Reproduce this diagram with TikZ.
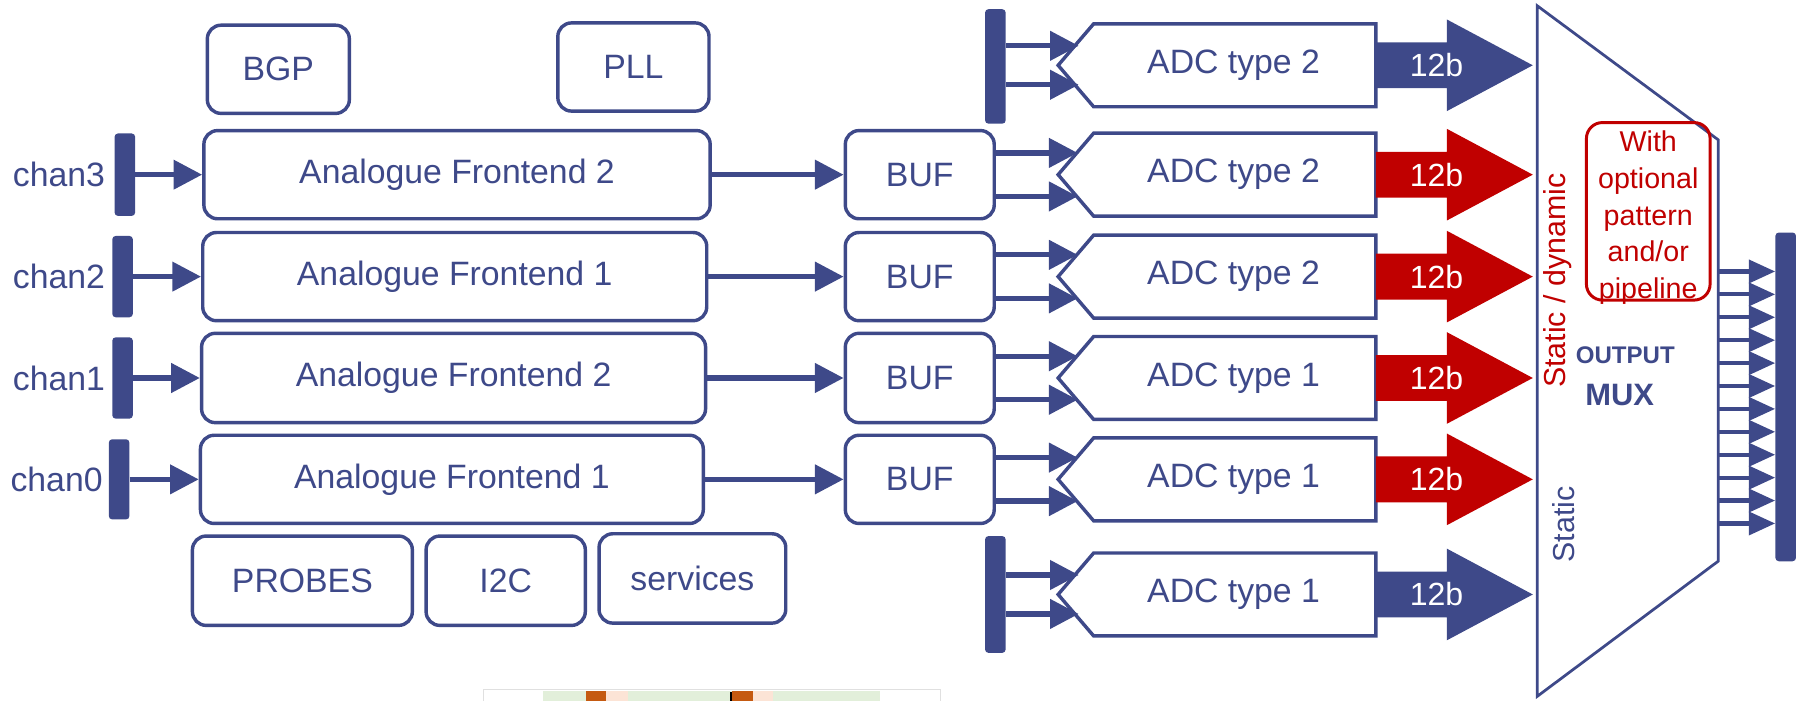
\documentclass[tikz,border=0pt]{standalone}
\usepackage{fontspec}
\setmainfont{Liberation Sans}
\usetikzlibrary{arrows.meta,calc}
\definecolor{navy}{RGB}{62,73,137}
\definecolor{dred}{RGB}{192,0,0}
\definecolor{lgreen}{RGB}{226,239,218}
\definecolor{orng}{RGB}{197,90,17}
\definecolor{lpink}{RGB}{252,228,214}
\begin{document}
\begin{tikzpicture}[x=1pt,y=-1pt,
  box/.style={draw=navy,line width=3pt,rounded corners=12pt,text=navy,
    font=\fontsize{29.5}{34}\selectfont,inner sep=0pt},
  barbox/.style={fill=navy,rounded corners=3pt,minimum width=18pt,inner sep=0pt},
  lbl/.style={text=navy,font=\fontsize{29.5}{34}\selectfont,inner sep=0pt},
  arr/.style={draw=navy,line width=4.6pt,-{Triangle[length=25pt,width=25pt]}},
  oarr/.style={draw=navy,line width=3.6pt,-{Triangle[length=23pt,width=20pt]}},
  adcbody/.style={minimum width=248pt,minimum height=72pt,inner sep=0pt,text=navy,
    font=\fontsize{29.5}{34}\selectfont},
  adcline/.style={draw=navy,line width=3pt,line join=miter},
  bits/.style={text=white,font=\fontsize{28}{32}\selectfont,inner sep=0pt}
]
\useasboundingbox (0,0) rectangle (1568,612);

% top blocks
\node[box,minimum width=124pt,minimum height=77pt] (bgp) at (243,60.5) {BGP};
\node[box,minimum width=132pt,minimum height=77pt] (pll) at (553,58.5) {PLL};

% analogue frontends
\node[box,minimum width=442pt,minimum height=77pt] (af3) at (399,152.5) {Analogue Frontend 2};
\node[box,minimum width=440pt,minimum height=77pt] (af2) at (397,241.5) {Analogue Frontend 1};
\node[box,minimum width=440pt,minimum height=78pt] (af1) at (396,330) {Analogue Frontend 2};
\node[box,minimum width=439pt,minimum height=77pt] (af0) at (394.5,418.5) {Analogue Frontend 1};

% bottom blocks
\node[box,minimum width=192pt,minimum height=78pt] (probes) at (264,507) {PROBES};
\node[box,minimum width=139pt,minimum height=78pt] (i2c) at (441.5,507) {I2C};
\node[box,minimum width=163pt,minimum height=78pt] (serv) at (604.5,505) {services};

% channel bars
\node[barbox,minimum height=72pt] (bar3) at (109,152.5) {};
\node[barbox,minimum height=71pt] (bar2) at (107,241.5) {};
\node[barbox,minimum height=71pt] (bar1) at (107,330) {};
\node[barbox,minimum height=70pt] (bar0) at (104,418.5) {};
\node[lbl,anchor=east] (c3) at ($(bar3.west)+(-8,0)$) {chan3};
\node[lbl,anchor=east] (c2) at ($(bar2.west)+(-6,0)$) {chan2};
\node[lbl,anchor=east] (c1) at ($(bar1.west)+(-6,0)$) {chan1};
\node[lbl,anchor=east] (c0) at ($(bar0.west)+(-5,0)$) {chan0};
\foreach \n in {0,1,2,3}{\draw[arr] (bar\n.east |- af\n.west) -- (af\n.west);}

% buffers
\node[box,minimum width=130pt,minimum height=77pt] (buf3) at (803,152.5) {BUF};
\node[box,minimum width=130pt,minimum height=77pt] (buf2) at (803,241.5) {BUF};
\node[box,minimum width=130pt,minimum height=78pt] (buf1) at (803,330) {BUF};
\node[box,minimum width=130pt,minimum height=77pt] (buf0) at (803,418.5) {BUF};
\foreach \n in {0,1,2,3}{\draw[arr] (af\n.east) -- (af\n.east -| buf\n.west);}

% ADC rows
\newcommand\adcrow[4]{%
  \node[adcbody] (#1) at (1077,#2) {#3};
  \draw[adcline] ($(#1.north west)+(2,0)$) -- (#1.north east) -- (#1.south east)
     -- ($(#1.south west)+(2,0)$) -- ($(#1.west)+(-29,0)$) -- cycle;
  \fill[#4] ($(#1.east)+(0,-20)$) -- ++(62,0) -- ++(0,-20) -- ++(75,40) -- ++(-75,40)
     -- ++(0,-20) -- ++(-62,0) -- cycle;
  \node[bits] (#1b) at ($(#1.east)+(53,0)$) {12b};
}
\adcrow{adcA}{57}{ADC type 2}{navy}
\adcrow{adcB}{152.5}{ADC type 2}{dred}
\adcrow{adcC}{241.5}{ADC type 2}{dred}
\adcrow{adcD}{330}{ADC type 1}{dred}
\adcrow{adcE}{418.5}{ADC type 1}{dred}
\adcrow{adcF}{519}{ADC type 1}{navy}

% buffer -> ADC arrows
\foreach \b/\a in {buf3/adcB,buf2/adcC,buf1/adcD,buf0/adcE}{
  \draw[arr] ($(\b.east)+(0,-19)$) -- ($(\a.west)+(-12,-19)$);
  \draw[arr] ($(\b.east)+(0,19)$) -- ($(\a.west)+(-12,19)$);
}

% side bars for top and bottom ADCs
\node[barbox,minimum height=100pt] (barT) at (869,58) {};
\node[barbox,minimum height=102pt] (barB) at (869,519) {};
\coordinate (tA1) at ($(adcA.west)+(-11,-17)$);
\coordinate (tA2) at ($(adcA.west)+(-11,17)$);
\coordinate (tF1) at ($(adcF.west)+(-11,-17)$);
\coordinate (tF2) at ($(adcF.west)+(-11,17)$);
\draw[arr] (barT.east |- tA1) -- (tA1);
\draw[arr] (barT.east |- tA2) -- (tA2);
\draw[arr] (barB.east |- tF1) -- (tF1);
\draw[arr] (barB.east |- tF2) -- (tF2);

% output mux
\draw[navy,line width=2.4pt,line join=miter] (1342,5) -- (1500,122) -- (1500,490) -- (1342,608) -- cycle;
\node[draw=dred,line width=2.6pt,rounded corners=14pt,minimum width=108pt,minimum height=155pt,inner sep=0pt] (opt) at (1439,184.5) {};
\node[text=dred,font=\fontsize{25}{32}\selectfont,align=center,inner sep=0pt] (optt) at (1439,190) {With\\optional\\pattern\\and/or\\pipeline};
\node[text=dred,rotate=90,font=\fontsize{26.5}{30}\selectfont,inner sep=0pt] (sd) at (1360,245) {Static / dynamic};
\node[text=navy,rotate=90,font=\fontsize{26.5}{30}\selectfont,inner sep=0pt] (st) at (1365,458) {Static};
\node[text=navy,font=\bfseries\fontsize{21}{24}\selectfont,inner sep=0pt] (outp) at (1419,310) {OUTPUT};
\node[text=navy,font=\bfseries\fontsize{27}{30}\selectfont,inner sep=0pt] (mux) at (1414,345) {MUX};

% output bus
\node[barbox,minimum height=287pt] (obar) at (1559,346.5) {};
\foreach \i [evaluate=\i as \yy using 237+20*\i] in {0,...,11}{
  \draw[oarr] (1500,\yy) -- (obar.west |- 0,\yy);
}

% partial screenshot strip at the bottom
\fill[white] (422,602) rectangle (821,613);
\draw[black!12,line width=1pt] (422,613) -- (422,602) -- (821,602) -- (821,613);
\fill[lgreen] (474,603) rectangle (768,612);
\fill[orng] (512,603) rectangle (529,612);
\fill[lpink] (529,603) rectangle (548,612);
\fill[orng] (639,603) rectangle (657,612);
\fill[lpink] (657,603) rectangle (675,612);
\fill[black] (637,604) rectangle (639,612);
\end{tikzpicture}
\end{document}
